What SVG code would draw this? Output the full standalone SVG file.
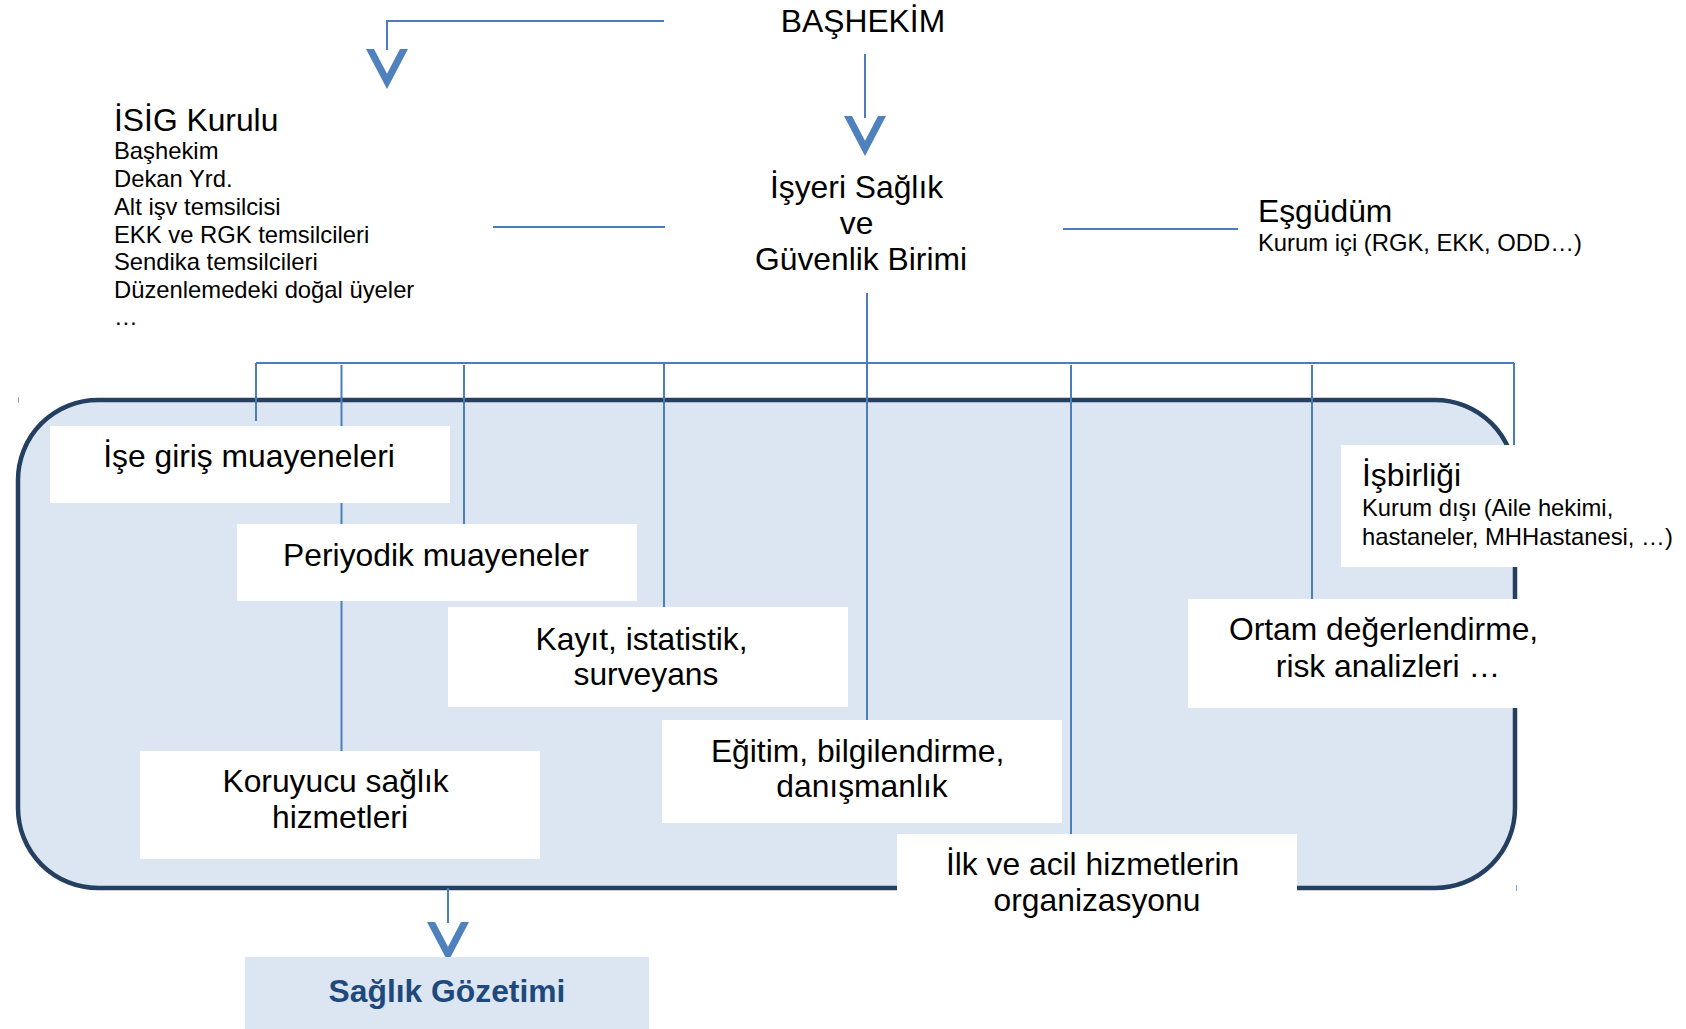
<svg xmlns="http://www.w3.org/2000/svg" xmlns:xlink="http://www.w3.org/1999/xlink" width="1686" height="1029" viewBox="0 0 1686 1029">
  <style>
    text { font-family: "Liberation Sans", Arial, sans-serif; fill: #000; }
    .big { font-size: 31.8px; }
    .small { font-size: 23.8px; }
    .mid { text-anchor: middle; }
    .title { font-size: 31.8px; font-weight: bold; fill: #1f497d; text-anchor: middle; }
    .conn { stroke: #4a7ebb; stroke-width: 2; fill: none; }
    .box { fill: #ffffff; stroke: none; }
    .tick { stroke: #8aa0bb; stroke-width: 1; }
  </style>
  <defs>
    <polygon id="vhead" points="-21,-40 -13,-40 0,-15.2 13,-40 21,-40 0,0" fill="#4f81bd"/>
  </defs>
  <rect width="1686" height="1029" fill="#ffffff"/>

  <g id="container">
    <rect x="18" y="400" width="1497" height="488" rx="80" ry="80" fill="#dce6f2" stroke="#243f60" stroke-width="4.5"/>
    <line class="tick" x1="18.5" y1="397" x2="18.5" y2="403"/>
    <line class="tick" x1="1516.5" y1="885" x2="1516.5" y2="891"/>
  </g>

  <g id="connectors">
    <polyline class="conn" points="664,21 387,21 387,50"/>
    <use xlink:href="#vhead" x="387" y="89"/>
    <line class="conn" x1="865" y1="54" x2="865" y2="118"/>
    <use xlink:href="#vhead" x="865" y="156"/>
    <line class="conn" x1="493" y1="227" x2="665" y2="227"/>
    <line class="conn" x1="1063" y1="229" x2="1238" y2="229"/>
    <line class="conn" x1="867" y1="293" x2="867" y2="720"/>
    <line class="conn" x1="256" y1="363" x2="1514" y2="363"/>
    <line class="conn" x1="256" y1="363" x2="256" y2="421"/>
    <line class="conn" x1="341.5" y1="365" x2="341.5" y2="751"/>
    <line class="conn" x1="464" y1="365" x2="464" y2="524"/>
    <line class="conn" x1="664" y1="363" x2="664" y2="607"/>
    <line class="conn" x1="1071" y1="365" x2="1071" y2="834"/>
    <line class="conn" x1="1312" y1="365" x2="1312" y2="599"/>
    <line class="conn" x1="1514" y1="363" x2="1514" y2="445"/>
    <line class="conn" x1="448" y1="888" x2="448" y2="923"/>
    <use xlink:href="#vhead" x="448" y="962"/>
  </g>

  <g id="bashekim">
    <text class="big mid" x="863" y="32">BAŞHEKİM</text>
  </g>

  <g id="isg-birimi">
    <text class="big mid">
      <tspan x="861" y="198">İşyeri Sağlık</tspan>
      <tspan x="861" y="234">ve</tspan>
      <tspan x="861" y="270">Güvenlik Birimi</tspan>
    </text>
  </g>

  <g id="isig-kurulu">
    <text class="big" x="114" y="131">İSİG Kurulu</text>
    <text class="small">
      <tspan x="114" y="159">Başhekim</tspan>
      <tspan x="114" y="187">Dekan Yrd.</tspan>
      <tspan x="114" y="215">Alt işv temsilcisi</tspan>
      <tspan x="114" y="243">EKK ve RGK temsilcileri</tspan>
      <tspan x="114" y="270">Sendika temsilcileri</tspan>
      <tspan x="114" y="298">Düzenlemedeki doğal üyeler</tspan>
      <tspan x="114" y="325">…</tspan>
    </text>
  </g>

  <g id="esgudum">
    <text class="big" x="1258" y="222">Eşgüdüm</text>
    <text class="small" x="1258" y="251">Kurum içi (RGK, EKK, ODD…)</text>
  </g>

  <g id="ise-giris">
    <rect class="box" x="50" y="426" width="400" height="77"/>
    <text class="big mid" x="249" y="467">İşe giriş muayeneleri</text>
  </g>

  <g id="periyodik">
    <rect class="box" x="237" y="524" width="400" height="77"/>
    <text class="big mid" x="436" y="566">Periyodik muayeneler</text>
  </g>

  <g id="kayit">
    <rect class="box" x="448" y="607" width="400" height="100"/>
    <text class="big mid">
      <tspan x="646" y="650">Kayıt, istatistik,</tspan>
      <tspan x="646" y="685">surveyans</tspan>
    </text>
  </g>

  <g id="egitim">
    <rect class="box" x="662" y="720" width="400" height="103"/>
    <text class="big mid">
      <tspan x="862" y="762">Eğitim, bilgilendirme,</tspan>
      <tspan x="862" y="797">danışmanlık</tspan>
    </text>
  </g>

  <g id="koruyucu">
    <rect class="box" x="140" y="751" width="400" height="108"/>
    <text class="big mid">
      <tspan x="340" y="792">Koruyucu sağlık</tspan>
      <tspan x="340" y="828">hizmetleri</tspan>
    </text>
  </g>

  <g id="ilk-acil">
    <rect class="box" x="897" y="834" width="400" height="100"/>
    <text class="big mid">
      <tspan x="1097" y="875">İlk ve acil hizmetlerin</tspan>
      <tspan x="1097" y="911">organizasyonu</tspan>
    </text>
  </g>

  <g id="ortam">
    <rect class="box" x="1188" y="599" width="400" height="109"/>
    <text class="big mid">
      <tspan x="1388" y="640">Ortam değerlendirme,</tspan>
      <tspan x="1388" y="677">risk analizleri …</tspan>
    </text>
  </g>

  <g id="isbirligi">
    <rect class="box" x="1341" y="445" width="345" height="122"/>
    <text class="big" x="1362" y="486">İşbirliği</text>
    <text class="small">
      <tspan x="1362" y="516">Kurum dışı (Aile hekimi,</tspan>
      <tspan x="1362" y="545">hastaneler, MHHastanesi, …)</tspan>
    </text>
  </g>

  <g id="saglik-gozetimi">
    <rect x="245" y="957" width="404" height="72" fill="#dce6f2"/>
    <text class="title" x="447" y="1002">Sağlık Gözetimi</text>
  </g>
</svg>
